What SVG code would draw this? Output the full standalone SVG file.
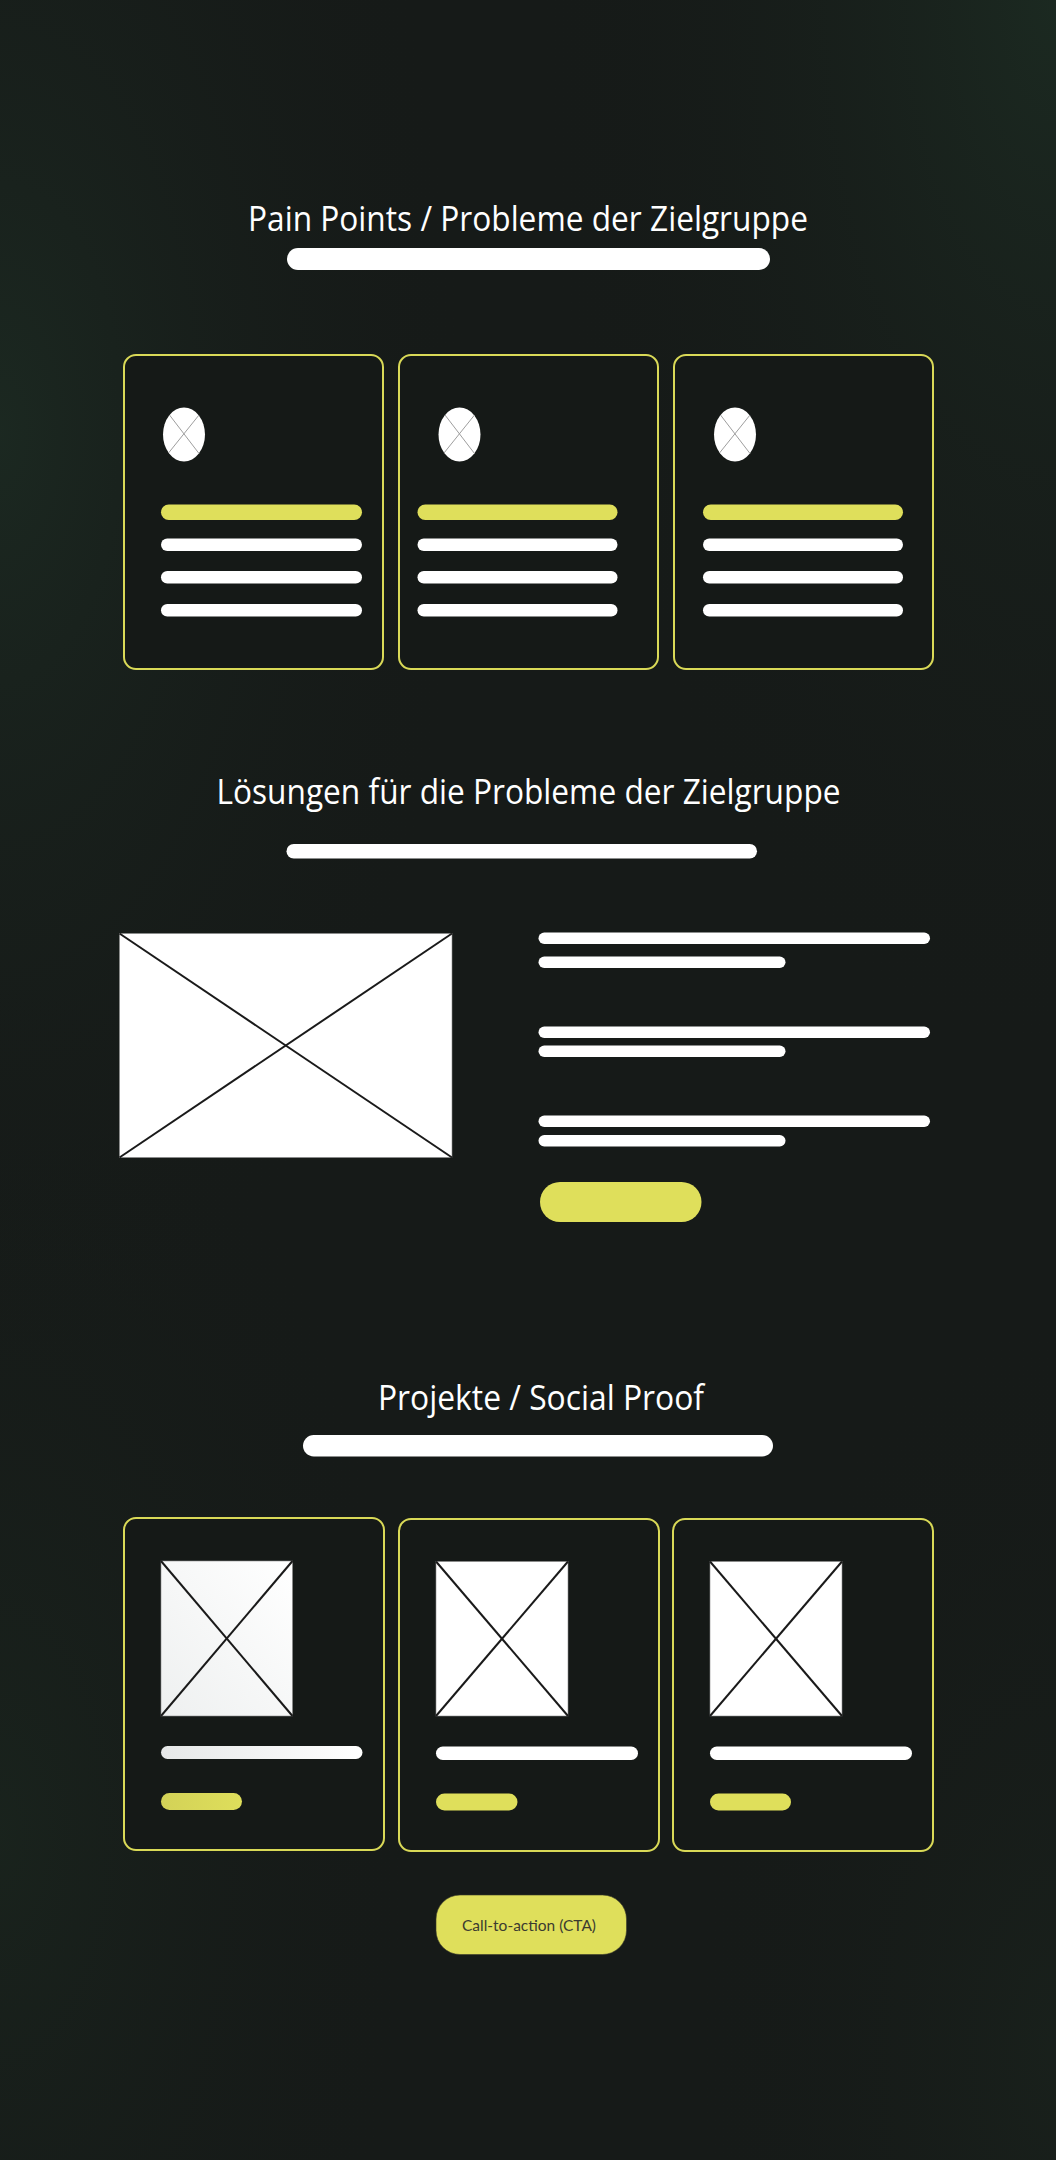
<svg xmlns="http://www.w3.org/2000/svg" width="1056" height="2160" viewBox="0 0 1056 2160">
  <defs>
    <radialGradient id="glowL" cx="0" cy="0.2" r="0.45">
      <stop offset="0" stop-color="#1c2a22" stop-opacity="0.9"/>
      <stop offset="1" stop-color="#161a18" stop-opacity="0"/>
    </radialGradient>
    <radialGradient id="glowTR" cx="1" cy="0" r="0.5">
      <stop offset="0" stop-color="#1c2b22" stop-opacity="0.9"/>
      <stop offset="1" stop-color="#161a18" stop-opacity="0"/>
    </radialGradient>
    <radialGradient id="glowBL" cx="0" cy="0.85" r="0.4">
      <stop offset="0" stop-color="#1a251e" stop-opacity="0.8"/>
      <stop offset="1" stop-color="#161a18" stop-opacity="0"/>
    </radialGradient>
    <radialGradient id="glowBR" cx="1" cy="0.95" r="0.35">
      <stop offset="0" stop-color="#1a231d" stop-opacity="0.7"/>
      <stop offset="1" stop-color="#161a18" stop-opacity="0"/>
    </radialGradient>
    <linearGradient id="fadeImg" x1="0" y1="1" x2="1" y2="0">
      <stop offset="0" stop-color="#eef0f0"/>
      <stop offset="1" stop-color="#ffffff"/>
    </linearGradient>
    <linearGradient id="fadeBar" x1="0" y1="0" x2="1" y2="0">
      <stop offset="0" stop-color="#e6e8e8"/>
      <stop offset="1" stop-color="#ffffff"/>
    </linearGradient>
    <linearGradient id="fadeYel" x1="0" y1="0" x2="1" y2="0">
      <stop offset="0" stop-color="#d3d257"/>
      <stop offset="1" stop-color="#dede5b"/>
    </linearGradient>
  </defs>
  <style>
    .title { font-family: "Open Sans", "Noto Sans", sans-serif; font-size: 35px; fill: #ffffff; text-anchor: middle; }
    .card { fill: #151917; stroke: #d9d957; stroke-width: 2; }
    .wbar { fill: #ffffff; }
    .ybar { fill: #dfdf5b; }
    .img { fill: #ffffff; stroke: #8a8a8a; stroke-width: 0.6; }
    .xline { stroke: #1a1a1a; stroke-width: 2; fill: none; }
    .thin { stroke: #9e9e9e; stroke-width: 1; fill: none; }
    .cta { font-family: "Lato", "Open Sans", sans-serif; font-size: 16px; fill: #3b3b30; text-anchor: middle; }
  </style>

  <rect x="0" y="0" width="1056" height="2160" fill="#161a18"/>
  <rect x="0" y="0" width="1056" height="2160" fill="url(#glowL)"/>
  <rect x="0" y="0" width="1056" height="2160" fill="url(#glowTR)"/>
  <rect x="0" y="0" width="1056" height="2160" fill="url(#glowBL)"/>
  <rect x="0" y="0" width="1056" height="2160" fill="url(#glowBR)"/>

  <!-- Section 1 -->
  <g id="title-painpoints">
    <text class="title" x="528" y="231" textLength="560" lengthAdjust="spacingAndGlyphs">Pain Points / Probleme der Zielgruppe</text>
    <rect class="wbar" x="287" y="248" width="483" height="22" rx="11"/>
  </g>

  <g id="pain-card-1">
    <rect class="card" x="124" y="355" width="259" height="314" rx="12"/>
    <ellipse cx="184" cy="434.5" rx="21" ry="27" fill="#ffffff"/>
    <line class="thin" x1="169.5" y1="415" x2="199" y2="453.5"/>
    <line class="thin" x1="199" y1="415" x2="168.5" y2="453"/>
    <rect class="ybar" x="161" y="504.5" width="201" height="15.5" rx="7.75"/>
    <rect class="wbar" x="161" y="538.5" width="201" height="12.5" rx="6.25"/>
    <rect class="wbar" x="161" y="571" width="201" height="12.5" rx="6.25"/>
    <rect class="wbar" x="161" y="604" width="201" height="12.5" rx="6.25"/>
  </g>

  <g id="pain-card-2">
    <rect class="card" x="399" y="355" width="259" height="314" rx="12"/>
    <ellipse cx="459.5" cy="434.5" rx="21" ry="27" fill="#ffffff"/>
    <line class="thin" x1="445" y1="415" x2="474.5" y2="453.5"/>
    <line class="thin" x1="474.5" y1="415" x2="444" y2="453"/>
    <rect class="ybar" x="417.5" y="504.5" width="200" height="15.5" rx="7.75"/>
    <rect class="wbar" x="417.5" y="538.5" width="200" height="12.5" rx="6.25"/>
    <rect class="wbar" x="417.5" y="571" width="200" height="12.5" rx="6.25"/>
    <rect class="wbar" x="417.5" y="604" width="200" height="12.5" rx="6.25"/>
  </g>

  <g id="pain-card-3">
    <rect class="card" x="674" y="355" width="259" height="314" rx="12"/>
    <ellipse cx="735" cy="434.5" rx="21" ry="27" fill="#ffffff"/>
    <line class="thin" x1="720.5" y1="415" x2="750" y2="453.5"/>
    <line class="thin" x1="750" y1="415" x2="719.5" y2="453"/>
    <rect class="ybar" x="703" y="504.5" width="200" height="15.5" rx="7.75"/>
    <rect class="wbar" x="703" y="538.5" width="200" height="12.5" rx="6.25"/>
    <rect class="wbar" x="703" y="571" width="200" height="12.5" rx="6.25"/>
    <rect class="wbar" x="703" y="604" width="200" height="12.5" rx="6.25"/>
  </g>

  <!-- Section 2 -->
  <g id="title-loesungen">
    <text class="title" x="528.5" y="804" textLength="624" lengthAdjust="spacingAndGlyphs">Lösungen für die Probleme der Zielgruppe</text>
    <rect class="wbar" x="286.5" y="844" width="470.5" height="14.5" rx="7.25"/>
  </g>

  <g id="solution-image">
    <rect class="img" x="119.5" y="933.5" width="332.5" height="224"/>
    <line class="xline" x1="119.5" y1="933.5" x2="452" y2="1157.5"/>
    <line class="xline" x1="452" y1="933.5" x2="119.5" y2="1157.5"/>
  </g>

  <g id="solution-text">
    <rect class="wbar" x="538.5" y="932.5" width="391.5" height="11.5" rx="5.75"/>
    <rect class="wbar" x="538.5" y="956.5" width="247" height="11.5" rx="5.75"/>
    <rect class="wbar" x="538.5" y="1026.5" width="391.5" height="11.5" rx="5.75"/>
    <rect class="wbar" x="538.5" y="1045.5" width="247" height="11.5" rx="5.75"/>
    <rect class="wbar" x="538.5" y="1115.5" width="391.5" height="11.5" rx="5.75"/>
    <rect class="wbar" x="538.5" y="1135" width="247" height="11.5" rx="5.75"/>
  </g>

  <g id="solution-button">
    <rect class="ybar" x="540" y="1182" width="161.5" height="40" rx="20"/>
  </g>

  <!-- Section 3 -->
  <g id="title-projekte">
    <text class="title" x="541" y="1410" textLength="326" lengthAdjust="spacingAndGlyphs">Projekte / Social Proof</text>
    <rect class="wbar" x="303" y="1435" width="470" height="21.5" rx="10.75"/>
  </g>

  <g id="project-card-1">
    <rect class="card" x="124" y="1518" width="260" height="332" rx="12"/>
    <rect x="161" y="1561" width="131.5" height="155" fill="url(#fadeImg)" stroke="#8a8a8a" stroke-width="0.6"/>
    <line class="xline" x1="161" y1="1561" x2="292.5" y2="1716"/>
    <line class="xline" x1="292.5" y1="1561" x2="161" y2="1716"/>
    <rect x="161" y="1746" width="201.5" height="13" rx="6.5" fill="url(#fadeBar)"/>
    <rect x="161" y="1793" width="81" height="17" rx="8.5" fill="url(#fadeYel)"/>
  </g>

  <g id="project-card-2">
    <rect class="card" x="399" y="1519" width="260" height="332" rx="12"/>
    <rect class="img" x="436" y="1561.5" width="132" height="154.5"/>
    <line class="xline" x1="436" y1="1561.5" x2="568" y2="1716"/>
    <line class="xline" x1="568" y1="1561.5" x2="436" y2="1716"/>
    <rect class="wbar" x="436" y="1746.5" width="202" height="13.5" rx="6.75"/>
    <rect class="ybar" x="436" y="1793.5" width="81.5" height="17" rx="8.5"/>
  </g>

  <g id="project-card-3">
    <rect class="card" x="673" y="1519" width="260" height="332" rx="12"/>
    <rect class="img" x="710" y="1561.5" width="132" height="154.5"/>
    <line class="xline" x1="710" y1="1561.5" x2="842" y2="1716"/>
    <line class="xline" x1="842" y1="1561.5" x2="710" y2="1716"/>
    <rect class="wbar" x="710" y="1746.5" width="202" height="13.5" rx="6.75"/>
    <rect class="ybar" x="710" y="1793.5" width="81" height="17" rx="8.5"/>
  </g>

  <g id="cta-button">
    <rect class="ybar" x="436" y="1895" width="190.5" height="59.5" rx="24" stroke="#3a3a2a" stroke-width="0.6"/>
    <text class="cta" x="529" y="1930.5" textLength="134" lengthAdjust="spacingAndGlyphs">Call-to-action (CTA)</text>
  </g>
</svg>
